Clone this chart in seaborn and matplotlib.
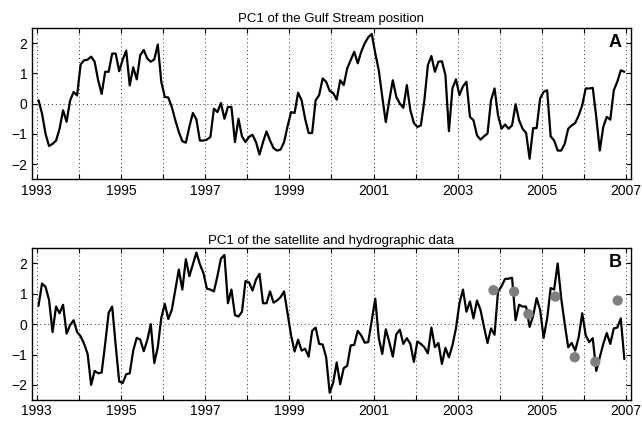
import numpy as np
import pandas as pd
import matplotlib
matplotlib.use("Agg")
import matplotlib.pyplot as plt
import seaborn as sns

# ---------------- data ----------------
start_year = 1993
n_months = 168

pc1_gulf_stream = [
    0.11, -0.33, -1.0, -1.4, -1.33, -1.22, -0.83, -0.22, -0.6, 0.1, 0.38, 0.27,
    1.29, 1.43, 1.45, 1.55, 1.38, 0.77, 0.32, 1.05, 1.05, 1.65, 1.65, 1.07,
    1.45, 1.75, 0.6, 1.2, 0.8, 1.6, 1.77, 1.49, 1.38, 1.46, 1.95, 0.72,
    0.22, 0.2, -0.11, -0.55, -0.94, -1.24, -1.29, -0.77, -0.31, -0.52, -1.22, -1.22,
    -1.19, -1.1, -0.17, -0.28, 0.02, -0.5, -0.11, -0.11, -1.27, -0.5, -1.08, -1.27,
    -1.1, -1.03, -1.27, -1.68, -1.27, -0.92, -1.22, -1.47, -1.55, -1.52, -1.27, -0.75,
    -0.28, -0.31, 0.36, 0.11, -0.5, -0.97, -0.97, 0.11, 0.28, 0.83, 0.72, 0.42,
    0.35, 0.13, 0.77, 0.61, 1.16, 1.44, 1.71, 1.33, 1.71, 1.99, 2.19, 2.3,
    1.66, 1.1, 0.22, -0.61, 0.11, 0.77, 0.22, 0.0, -0.14, 0.61, -0.22, -0.64,
    -0.77, -0.72, 0.11, 1.27, 1.57, 1.05, 1.38, 1.4, 0.94, -0.91, 0.5, 0.8,
    0.28, 0.57, 0.72, -0.44, -0.55, -1.05, -1.19, -1.08, -0.99, 0.11, 0.5, -0.39,
    -0.83, -0.69, -0.83, -0.72, -0.02, -0.55, -0.83, -0.97, -1.82, -0.81, -0.81, 0.17,
    0.39, 0.44, -1.08, -1.22, -1.55, -1.55, -1.33, -0.83, -0.72, -0.64, -0.39, -0.06,
    0.5, 0.5, 0.52, -0.44, -1.55, -0.77, -0.44, -0.53, 0.44, 0.72, 1.1, 1.05,
]

pc1_satellite = [
    0.61, 1.34, 1.23, 0.8, -0.26, 0.58, 0.36, 0.64, -0.31, -0.03, 0.13, -0.26,
    -0.4, -0.65, -0.98, -2.0, -1.54, -1.62, -1.59, -0.65, 0.38, 0.58, -0.7, -1.89,
    -1.94, -1.65, -1.62, -0.87, -0.45, -0.51, -0.89, -0.53, 0.0, -1.28, -0.76, 0.21,
    0.67, 0.17, 0.47, 1.14, 1.8, 1.14, 2.14, 1.58, 1.97, 2.36, 1.97, 1.69,
    1.17, 1.14, 1.08, 1.58, 2.16, 2.28, 0.69, 1.14, 0.3, 0.25, 0.41, 1.42,
    1.38, 1.11, 1.47, 1.66, 0.69, 0.69, 1.08, 0.71, 0.78, 0.89, 1.08, 0.36,
    -0.37, -0.9, -0.51, -0.87, -0.81, -1.07, -0.22, -0.11, -0.65, -0.67, -1.09, -2.26,
    -1.93, -1.26, -1.98, -1.45, -1.37, -0.7, -0.68, -0.22, -0.37, -0.61, -0.59, 0.13,
    0.84, -0.46, -0.98, -0.17, -0.59, -1.07, -0.33, -0.18, -0.65, -0.46, -0.65, -1.24,
    -0.57, -0.65, -0.76, -0.96, -0.11, -0.76, -0.62, -1.31, -0.78, -1.09, -0.7, -0.14,
    0.69, 1.14, 0.41, 0.75, 0.19, 0.78, 0.47, -0.09, -0.62, -0.14, -0.35, 1.08,
    1.25, 1.49, 1.5, 1.53, 0.13, 0.64, 0.58, 0.58, -0.09, 0.27, 0.86, 0.47,
    -0.45, 0.19, 1.19, 1.14, 2.0, 0.86, 0.02, -0.76, -0.62, -0.87, -0.42, 0.36,
    -0.37, -0.59, -0.46, -1.54, -1.09, -0.65, -0.29, -0.65, -0.14, -0.11, 0.19, -1.15,
]

hydro_time = [2003.85, 2004.34, 2004.68, 2005.32, 2005.78, 2006.27, 2006.80]
hydro_value = [1.12, 1.07, 0.33, 0.91, -1.09, -1.24, 0.78]

year_ticks = list(range(1993, 2008))
year_labels = [str(y) if (y - 1993) % 2 == 0 else "" for y in year_ticks]
y_ticks = [-2, -1, 0, 1, 2]

titles = ["PC1 of the Gulf Stream position", "PC1 of the satellite and hydrographic data"]
panel_letters = ["A", "B"]

# ---------------- build tables ----------------
months = np.arange(n_months)
time = start_year + (months + 0.5) / 12.0
df_a = pd.DataFrame({"time": time, "value": pc1_gulf_stream})
df_b = pd.DataFrame({"time": time, "value": pc1_satellite})
df_dots = pd.DataFrame({"time": hydro_time, "value": hydro_value})

# ---------------- style ----------------
sns.set_theme(style="ticks")
plt.rcParams["font.family"] = ["Liberation Sans", "DejaVu Sans"]
plt.rcParams["axes.unicode_minus"] = True

fig = plt.figure(figsize=(6.42, 4.22), dpi=100)
left, width = 0.0494, 0.933
ax_a = fig.add_axes([left, 0.575, width, 0.359])
ax_b = fig.add_axes([left, 0.052, width, 0.3596])

for ax, df, title, letter, pad in zip([ax_a, ax_b], [df_a, df_b], titles, panel_letters, [4.0, 3.0]):
    # grid lines (dotted) at each year and at zero
    for yr in year_ticks:
        ax.axvline(yr, color="#333333", linestyle=(0, (1, 3)), linewidth=0.7, zorder=0)
    ax.axhline(0, color="#333333", linestyle=(0, (1, 3)), linewidth=0.7, zorder=0)

    sns.lineplot(data=df, x="time", y="value", ax=ax, color="black",
                 linewidth=1.6, estimator=None, zorder=3)

    ax.set_xlim(1992.88, 2007.11)
    ax.set_ylim(-2.5, 2.5)
    ax.set_xticks(year_ticks)
    ax.set_xticklabels(year_labels)
    ax.set_yticks(y_ticks)
    ax.set_yticklabels([str(v) if v >= 0 else "\u2212" + str(-v) for v in y_ticks])
    ax.set_xlabel("")
    ax.set_ylabel("")
    ax.tick_params(direction="in", length=3.5, width=0.8, top=True, right=True,
                   labelsize=10, colors="black", pad=3)
    for s in ax.spines.values():
        s.set_visible(True)
        s.set_color("black")
        s.set_linewidth(1.0)
    ax.set_title(title, fontsize=9.5, pad=pad, color="black")
    ax.text(0.985, 0.96, letter, transform=ax.transAxes, ha="right", va="top",
            fontsize=13, fontweight="bold", color="black")

sns.scatterplot(data=df_dots, x="time", y="value", ax=ax_b, color="#7f7f7f",
                s=55, edgecolor="none", zorder=4)
ax_b.set_xlabel("")
ax_b.set_ylabel("")

fig.savefig("out.png", dpi=100)
